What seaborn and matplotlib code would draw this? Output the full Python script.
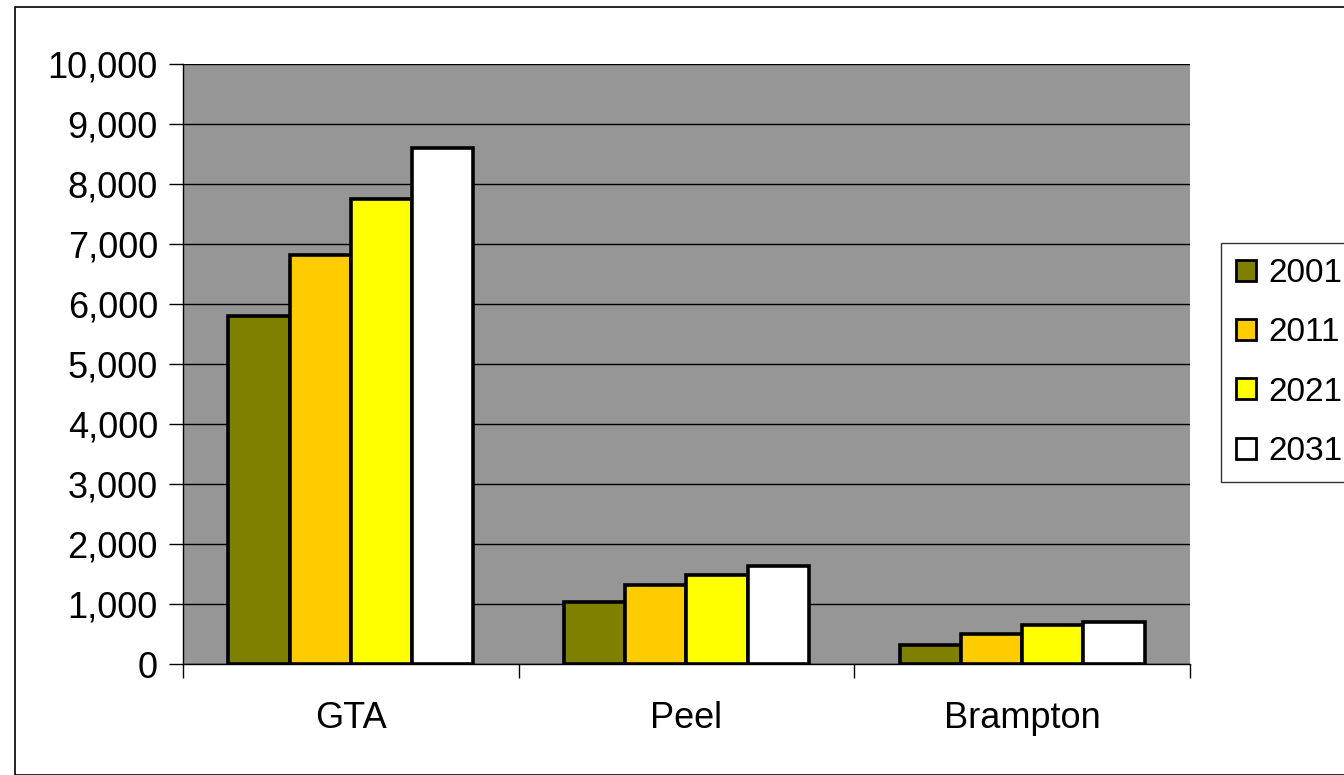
import matplotlib
matplotlib.use("Agg")
import matplotlib.pyplot as plt
import seaborn as sns
import pandas as pd
from matplotlib.patches import Rectangle

regions = ["GTA", "Peel", "Brampton"]
years = ["2001", "2011", "2021", "2031"]
v2001 = [5808, 1027, 322]
v2011 = [6822, 1317, 505]
v2021 = [7754, 1488, 655]
v2031 = [8600, 1638, 693]
colors = ["#808000", "#FFCC00", "#FFFF00", "#FFFFFF"]

rows = []
for yr, vals in zip(years, [v2001, v2011, v2021, v2031]):
    for r, v in zip(regions, vals):
        rows.append({"region": r, "year": yr, "value": v})
df = pd.DataFrame(rows)

sns.set_theme(style="white")
plt.rcParams['font.family'] = ['Liberation Sans', 'DejaVu Sans']
plt.rcParams['text.color'] = 'black'
plt.rcParams['xtick.color'] = 'black'
plt.rcParams['ytick.color'] = 'black'
plt.rcParams['axes.labelcolor'] = 'black'

W, H = 1344, 775
fig = plt.figure(figsize=(W/100, H/100), dpi=100)
ax = fig.add_axes([183/W, 1-664/H, (1190-183)/W, (664-64)/H])
ax.set_facecolor("#969696")

sns.barplot(data=df, x="region", y="value", hue="year", palette=colors,
            width=0.73, gap=0, edgecolor="black", linewidth=2.6, ax=ax,
            saturation=1, errorbar=None)

ax.set_ylim(0, 10000)
ax.set_xlim(-0.5, 2.5)
ax.set_yticks(range(0, 10001, 1000))
ax.set_yticklabels([f"{v:,}" for v in range(0, 10001, 1000)])
ax.yaxis.grid(True, color="black", linewidth=1)
ax.set_axisbelow(True)
ax.set_xlabel("")
ax.set_ylabel("")
ax.tick_params(axis="both", labelsize=26, colors="black")
ax.set_xticks([0, 1, 2])
ax.set_xticklabels(regions)
ax.tick_params(axis="x", length=0, pad=27)
ax.tick_params(axis="y", length=10, width=1, direction="out", left=True, pad=8)
ax.set_xticks([-0.5, 0.5, 1.5, 2.5], minor=True)
ax.tick_params(axis="x", which="minor", length=10, width=1, direction="out", bottom=True)
for s in ["top", "right"]:
    ax.spines[s].set_visible(False)
ax.spines["left"].set_color("black")
ax.spines["bottom"].set_color("black")
ax.spines["left"].set_linewidth(1)
ax.spines["bottom"].set_linewidth(1)

leg = ax.legend(loc="upper left", bbox_to_anchor=(1221/W, 1-243/H), bbox_transform=fig.transFigure,
                frameon=True, fancybox=False, fontsize=24, handlelength=0.6, handleheight=0.6,
                handletextpad=0.38, labelspacing=0.85, borderpad=0.45, borderaxespad=0)
leg.get_frame().set_edgecolor("black")
leg.get_frame().set_linewidth(1)
for t in leg.get_texts():
    t.set_color("black")
for h in leg.legend_handles:
    h.set_linewidth(2)
    h.set_edgecolor("black")

fig.patches.append(Rectangle((15/W, 0), 1.2, 1-7/H, transform=fig.transFigure,
                             fill=False, edgecolor="black", linewidth=1.2))

fig.savefig("out.png", dpi=100)
